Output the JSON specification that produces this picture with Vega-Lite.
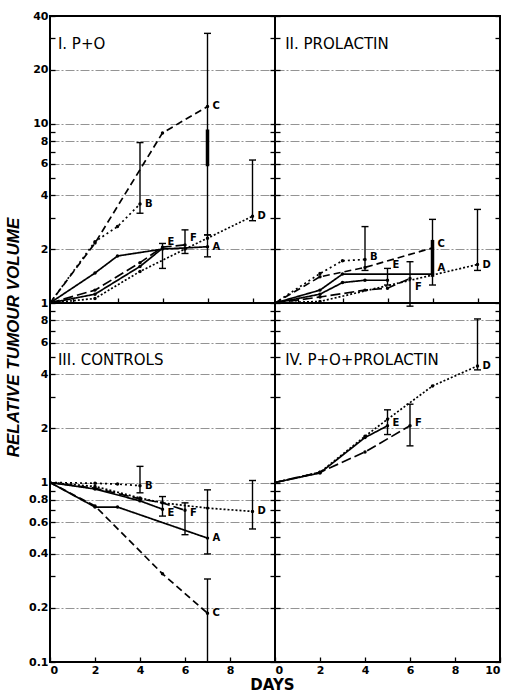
{
 "$schema": "https://vega.github.io/schema/vega-lite/v6.json",
 "background": "white",
 "padding": {"left": 3, "top": 9, "right": 2, "bottom": 2},
 "config": {
  "view": {"stroke": "black", "strokeWidth": 2},
  "axis": {"labelFont": "DejaVu Sans", "labelFontWeight": "bold", "labelFontSize": 11, "labelColor": "black", "tickColor": "black", "tickWidth": 1.3, "gridColor": "#666", "gridWidth": 0.7, "gridDash": [9, 2, 2, 2], "domain": false, "titleColor": "black"},
  "text": {"color": "black"}
 },
 "datasets": {
  "lines": [
   {"p":"I","s":"A","d":0,"v":1},{"p":"I","s":"A","d":2,"v":1.47},{"p":"I","s":"A","d":3,"v":1.83},{"p":"I","s":"A","d":5,"v":2.0},{"p":"I","s":"A","d":7,"v":2.06},
   {"p":"I","s":"B","d":0,"v":1},{"p":"I","s":"B","d":2,"v":2.2},{"p":"I","s":"B","d":3,"v":2.67},{"p":"I","s":"B","d":4,"v":3.57},
   {"p":"I","s":"C","d":0,"v":1},{"p":"I","s":"C","d":2,"v":2.16},{"p":"I","s":"C","d":5,"v":8.9},{"p":"I","s":"C","d":7,"v":12.5},
   {"p":"I","s":"D","d":0,"v":1},{"p":"I","s":"D","d":2,"v":1.06},{"p":"I","s":"D","d":4,"v":1.5},{"p":"I","s":"D","d":6,"v":2.0},{"p":"I","s":"D","d":7,"v":2.3},{"p":"I","s":"D","d":9,"v":3.05},
   {"p":"I","s":"E","d":0,"v":1},{"p":"I","s":"E","d":2,"v":1.12},{"p":"I","s":"E","d":4,"v":1.6},{"p":"I","s":"E","d":5,"v":2.02},
   {"p":"I","s":"F","d":0,"v":1},{"p":"I","s":"F","d":2,"v":1.18},{"p":"I","s":"F","d":4,"v":1.68},{"p":"I","s":"F","d":5,"v":2.05},{"p":"I","s":"F","d":6,"v":2.11},
   {"p":"II","s":"A","d":0,"v":1},{"p":"II","s":"A","d":2,"v":1.18},{"p":"II","s":"A","d":3,"v":1.45},{"p":"II","s":"A","d":7,"v":1.45},
   {"p":"II","s":"B","d":0,"v":1},{"p":"II","s":"B","d":2,"v":1.46},{"p":"II","s":"B","d":3,"v":1.72},{"p":"II","s":"B","d":4,"v":1.75},
   {"p":"II","s":"C","d":0,"v":1},{"p":"II","s":"C","d":2,"v":1.4},{"p":"II","s":"C","d":4,"v":1.58},{"p":"II","s":"C","d":7,"v":2.03},
   {"p":"II","s":"D","d":0,"v":1},{"p":"II","s":"D","d":2,"v":1.02},{"p":"II","s":"D","d":9,"v":1.64},
   {"p":"II","s":"E","d":0,"v":1},{"p":"II","s":"E","d":2,"v":1.12},{"p":"II","s":"E","d":3,"v":1.3},{"p":"II","s":"E","d":4,"v":1.34},{"p":"II","s":"E","d":5,"v":1.34},
   {"p":"II","s":"F","d":0,"v":1},{"p":"II","s":"F","d":2,"v":1.08},{"p":"II","s":"F","d":4,"v":1.18},{"p":"II","s":"F","d":5,"v":1.21},{"p":"II","s":"F","d":6,"v":1.37},
   {"p":"III","s":"A","d":0,"v":1},{"p":"III","s":"A","d":2,"v":0.73},{"p":"III","s":"A","d":3,"v":0.73},{"p":"III","s":"A","d":7,"v":0.49},
   {"p":"III","s":"B","d":0,"v":1},{"p":"III","s":"B","d":2,"v":0.99},{"p":"III","s":"B","d":3,"v":0.98},{"p":"III","s":"B","d":4,"v":0.96},
   {"p":"III","s":"C","d":0,"v":1},{"p":"III","s":"C","d":2,"v":0.74},{"p":"III","s":"C","d":5,"v":0.31},{"p":"III","s":"C","d":7,"v":0.187},
   {"p":"III","s":"D","d":0,"v":1},{"p":"III","s":"D","d":2,"v":0.95},{"p":"III","s":"D","d":4,"v":0.82},{"p":"III","s":"D","d":5,"v":0.77},{"p":"III","s":"D","d":7,"v":0.72},{"p":"III","s":"D","d":9,"v":0.69},
   {"p":"III","s":"E","d":0,"v":1},{"p":"III","s":"E","d":2,"v":0.92},{"p":"III","s":"E","d":4,"v":0.79},{"p":"III","s":"E","d":5,"v":0.71},
   {"p":"III","s":"F","d":0,"v":1},{"p":"III","s":"F","d":2,"v":0.93},{"p":"III","s":"F","d":4,"v":0.81},{"p":"III","s":"F","d":5,"v":0.77},{"p":"III","s":"F","d":6,"v":0.7},
   {"p":"IV","s":"D","d":0,"v":1},{"p":"IV","s":"D","d":2,"v":1.14},{"p":"IV","s":"D","d":4,"v":1.81},{"p":"IV","s":"D","d":5,"v":2.25},{"p":"IV","s":"D","d":7,"v":3.45},{"p":"IV","s":"D","d":9,"v":4.46},
   {"p":"IV","s":"E","d":0,"v":1},{"p":"IV","s":"E","d":2,"v":1.13},{"p":"IV","s":"E","d":4,"v":1.78},{"p":"IV","s":"E","d":5,"v":2.07},
   {"p":"IV","s":"F","d":0,"v":1},{"p":"IV","s":"F","d":2,"v":1.14},{"p":"IV","s":"F","d":4,"v":1.48},{"p":"IV","s":"F","d":6,"v":2.07}
  ],
  "bars": [
   {"p":"I","d":4,"lo":3.17,"hi":7.86},{"p":"I","d":5,"lo":1.56,"hi":2.15},{"p":"I","d":6,"lo":1.89,"hi":2.56},{"p":"I","d":7,"lo":2.4,"hi":32},{"p":"I","d":7,"lo":1.81,"hi":2.4},{"p":"I","d":9,"lo":2.88,"hi":6.28},
   {"p":"II","d":4,"lo":1.52,"hi":2.67},{"p":"II","d":5,"lo":1.26,"hi":1.56},{"p":"II","d":6,"lo":0.96,"hi":1.7},{"p":"II","d":7,"lo":1.26,"hi":2.93},{"p":"II","d":9,"lo":1.52,"hi":3.33},
   {"p":"III","d":4,"lo":0.876,"hi":1.23},{"p":"III","d":5,"lo":0.65,"hi":0.835},{"p":"III","d":6,"lo":0.512,"hi":0.77},{"p":"III","d":7,"lo":0.4,"hi":0.91},{"p":"III","d":7,"lo":0.1,"hi":0.29},{"p":"III","d":9,"lo":0.551,"hi":1.026},
   {"p":"IV","d":5,"lo":1.85,"hi":2.54},{"p":"IV","d":6,"lo":1.6,"hi":2.73},{"p":"IV","d":9,"lo":4.24,"hi":8.15}
  ],
  "thick": [
   {"p":"I","d":7,"lo":5.8,"hi":9.3},
   {"p":"II","d":7,"lo":1.4,"hi":2.25}
  ],
  "labels": [
   {"p":"I","s":"A","d":7,"v":2.06},{"p":"I","s":"B","d":4,"v":3.57},{"p":"I","s":"C","d":7,"v":12.5},{"p":"I","s":"D","d":9,"v":3.05},{"p":"I","s":"E","d":5,"v":2.2},{"p":"I","s":"F","d":6,"v":2.3},
   {"p":"II","s":"A","d":7,"v":1.56},{"p":"II","s":"B","d":4,"v":1.81},{"p":"II","s":"C","d":7,"v":2.14},{"p":"II","s":"D","d":9,"v":1.64},{"p":"II","s":"E","d":5,"v":1.63},{"p":"II","s":"F","d":6,"v":1.23},
   {"p":"III","s":"A","d":7,"v":0.49},{"p":"III","s":"B","d":4,"v":0.96},{"p":"III","s":"C","d":7,"v":0.187},{"p":"III","s":"D","d":9,"v":0.69},{"p":"III","s":"E","d":5,"v":0.68},{"p":"III","s":"F","d":6,"v":0.68},
   {"p":"IV","s":"D","d":9,"v":4.46},{"p":"IV","s":"E","d":5,"v":2.14},{"p":"IV","s":"F","d":6,"v":2.14}
  ],
  "titles": [
   {"p":"I","t":"I. P+O"},{"p":"II","t":"II. PROLACTIN"},{"p":"III","t":"III. CONTROLS"},{"p":"IV","t":"IV. P+O+PROLACTIN"}
  ]
 },
 "columns": 2,
 "spacing": 0,
 "bounds": "flush",
 "align": "each",
 "concat": [
  {
   "width": 225, "height": 287,
   "resolve": {"axis": {"y": "independent"}},
   "layer": [
    {"data": {"name": "lines"}, "transform": [{"filter": "datum.p == 'I'"}],
     "mark": {"type": "line", "color": "black", "strokeWidth": 1.7},
     "encoding": {
      "x": {"field": "d", "type": "quantitative", "scale": {"domain": [0, 10], "nice": false}, "axis": {"values": [1,2,3,4,5,6,7,8,9], "labels": false, "tickSize": -5, "grid": false, "title": null}},
      "y": {"field": "v", "type": "quantitative", "scale": {"type": "log", "domain": [1, 40], "nice": false}, "axis": {"values": [1,2,3,4,5,6,7,8,9,10,20,30,40], "labelExpr": "indexof([1,2,4,6,8,10,20,40], datum.value) >= 0 ? '' + datum.value : ''", "tickSize": -5, "labelPadding": 7, "grid": true, "gridOpacity": {"condition": {"test": "indexof([2,4,6,8,10,20], datum.value) >= 0", "value": 1}, "value": 0}, "title": null}},
      "strokeDash": {"field": "s", "type": "nominal", "scale": {"domain": ["A","B","C","D","E","F"], "range": [[1,0],[2,3],[7,4],[2,2],[1,0],[10,4]]}, "legend": null}
     }},
    {"data": {"name": "lines"}, "transform": [{"filter": "datum.p == 'I' && datum.d > 0"}],
     "mark": {"type": "point", "filled": true, "color": "black", "size": 12, "opacity": 1},
     "encoding": {
      "x": {"field": "d", "type": "quantitative"},
      "y": {"field": "v", "type": "quantitative", "axis": {"orient": "right", "values": [1,2,3,4,5,6,7,8,9,10,20,30,40], "labels": false, "tickSize": -5, "grid": false, "title": null}}
     }},
    {"data": {"name": "bars"}, "transform": [{"filter": "datum.p == 'I'"}],
     "mark": {"type": "rule", "color": "black", "strokeWidth": 1.4},
     "encoding": {"x": {"field": "d", "type": "quantitative"}, "y": {"field": "lo", "type": "quantitative", "axis": null}, "y2": {"field": "hi"}}},
    {"data": {"name": "bars"}, "transform": [{"filter": "datum.p == 'I'"}],
     "mark": {"type": "tick", "orient": "horizontal", "color": "black", "size": 7, "thickness": 1.4, "opacity": 1},
     "encoding": {"x": {"field": "d", "type": "quantitative"}, "y": {"field": "lo", "type": "quantitative", "axis": null}}},
    {"data": {"name": "bars"}, "transform": [{"filter": "datum.p == 'I'"}],
     "mark": {"type": "tick", "orient": "horizontal", "color": "black", "size": 7, "thickness": 1.4, "opacity": 1},
     "encoding": {"x": {"field": "d", "type": "quantitative"}, "y": {"field": "hi", "type": "quantitative", "axis": null}}},
    {"data": {"name": "thick"}, "transform": [{"filter": "datum.p == 'I'"}],
     "mark": {"type": "rule", "color": "black", "strokeWidth": 3.5},
     "encoding": {"x": {"field": "d", "type": "quantitative"}, "y": {"field": "lo", "type": "quantitative", "axis": null}, "y2": {"field": "hi"}}},
    {"data": {"name": "labels"}, "transform": [{"filter": "datum.p == 'I'"}],
     "mark": {"type": "text", "align": "left", "baseline": "middle", "dx": 5, "font": "DejaVu Sans", "fontWeight": "bold", "fontSize": 10},
     "encoding": {"x": {"field": "d", "type": "quantitative"}, "y": {"field": "v", "type": "quantitative", "axis": null}, "text": {"field": "s"}}},
    {"data": {"name": "titles"}, "transform": [{"filter": "datum.p == 'I'"}],
     "mark": {"type": "text", "align": "left", "baseline": "middle", "font": "DejaVu Sans", "fontSize": 15},
     "encoding": {"x": {"datum": 0.35, "type": "quantitative"}, "y": {"datum": 28, "type": "quantitative", "axis": null}, "text": {"field": "t"}}}
   ]
  },
  {
   "width": 225, "height": 287,
   "resolve": {"axis": {"y": "independent"}},
   "layer": [
    {"data": {"name": "lines"}, "transform": [{"filter": "datum.p == 'II'"}],
     "mark": {"type": "line", "color": "black", "strokeWidth": 1.7},
     "encoding": {
      "x": {"field": "d", "type": "quantitative", "scale": {"domain": [0, 10], "nice": false}, "axis": {"values": [1,2,3,4,5,6,7,8,9], "labels": false, "tickSize": -5, "grid": false, "title": null}},
      "y": {"field": "v", "type": "quantitative", "scale": {"type": "log", "domain": [1, 40], "nice": false}, "axis": {"values": [1,2,3,4,5,6,7,8,9,10,20,30,40], "labels": false, "tickSize": -5, "grid": true, "gridOpacity": {"condition": {"test": "indexof([2,4,6,8,10,20], datum.value) >= 0", "value": 1}, "value": 0}, "title": null}},
      "strokeDash": {"field": "s", "type": "nominal", "scale": {"domain": ["A","B","C","D","E","F"], "range": [[1,0],[2,3],[7,4],[2,2],[1,0],[10,4]]}, "legend": null}
     }},
    {"data": {"name": "lines"}, "transform": [{"filter": "datum.p == 'II' && datum.d > 0"}],
     "mark": {"type": "point", "filled": true, "color": "black", "size": 12, "opacity": 1},
     "encoding": {
      "x": {"field": "d", "type": "quantitative"},
      "y": {"field": "v", "type": "quantitative", "axis": {"orient": "right", "values": [1,2,3,4,5,6,7,8,9,10,20,30,40], "labels": false, "tickSize": -5, "grid": false, "title": null}}
     }},
    {"data": {"name": "bars"}, "transform": [{"filter": "datum.p == 'II'"}],
     "mark": {"type": "rule", "color": "black", "strokeWidth": 1.4},
     "encoding": {"x": {"field": "d", "type": "quantitative"}, "y": {"field": "lo", "type": "quantitative", "axis": null}, "y2": {"field": "hi"}}},
    {"data": {"name": "bars"}, "transform": [{"filter": "datum.p == 'II'"}],
     "mark": {"type": "tick", "orient": "horizontal", "color": "black", "size": 7, "thickness": 1.4, "opacity": 1},
     "encoding": {"x": {"field": "d", "type": "quantitative"}, "y": {"field": "lo", "type": "quantitative", "axis": null}}},
    {"data": {"name": "bars"}, "transform": [{"filter": "datum.p == 'II'"}],
     "mark": {"type": "tick", "orient": "horizontal", "color": "black", "size": 7, "thickness": 1.4, "opacity": 1},
     "encoding": {"x": {"field": "d", "type": "quantitative"}, "y": {"field": "hi", "type": "quantitative", "axis": null}}},
    {"data": {"name": "thick"}, "transform": [{"filter": "datum.p == 'II'"}],
     "mark": {"type": "rule", "color": "black", "strokeWidth": 3.5},
     "encoding": {"x": {"field": "d", "type": "quantitative"}, "y": {"field": "lo", "type": "quantitative", "axis": null}, "y2": {"field": "hi"}}},
    {"data": {"name": "labels"}, "transform": [{"filter": "datum.p == 'II'"}],
     "mark": {"type": "text", "align": "left", "baseline": "middle", "dx": 5, "font": "DejaVu Sans", "fontWeight": "bold", "fontSize": 10},
     "encoding": {"x": {"field": "d", "type": "quantitative"}, "y": {"field": "v", "type": "quantitative", "axis": null}, "text": {"field": "s"}}},
    {"data": {"name": "titles"}, "transform": [{"filter": "datum.p == 'II'"}],
     "mark": {"type": "text", "align": "left", "baseline": "middle", "font": "DejaVu Sans", "fontSize": 15},
     "encoding": {"x": {"datum": 0.45, "type": "quantitative"}, "y": {"datum": 28, "type": "quantitative", "axis": null}, "text": {"field": "t"}}}
   ]
  },
  {
   "width": 225, "height": 359,
   "resolve": {"axis": {"y": "independent"}},
   "layer": [
    {"data": {"name": "lines"}, "transform": [{"filter": "datum.p == 'III'"}],
     "mark": {"type": "line", "color": "black", "strokeWidth": 1.7},
     "encoding": {
      "x": {"field": "d", "type": "quantitative", "scale": {"domain": [0, 10], "nice": false}, "axis": {"values": [0,1,2,3,4,5,6,7,8,9], "labelExpr": "datum.value % 2 == 0 ? '' + datum.value : ''", "tickSize": -5, "labelPadding": 7, "grid": false, "title": "DAYS", "titleX": 222, "titleAlign": "center", "titleFont": "DejaVu Sans", "titleFontWeight": "bold", "titleFontSize": 15, "titlePadding": 2}},
      "y": {"field": "v", "type": "quantitative", "scale": {"type": "log", "domain": [0.1, 10], "nice": false}, "axis": {"values": [0.1,0.2,0.3,0.4,0.5,0.6,0.7,0.8,0.9,1,2,3,4,5,6,7,8,9], "labelExpr": "indexof([0.1,0.2,0.4,0.6,0.8,1,2,4,6,8], datum.value) >= 0 ? '' + datum.value : ''", "tickSize": -5, "labelPadding": 7, "grid": true, "gridOpacity": {"condition": {"test": "indexof([0.2,0.4,0.6,0.8,1,2,4,6,8], datum.value) >= 0", "value": 1}, "value": 0}, "title": "RELATIVE TUMOUR VOLUME", "titleY": 34, "titleFont": "Liberation Sans", "titleFontStyle": "italic", "titleFontWeight": "bold", "titleFontSize": 17, "titlePadding": 6}},
      "strokeDash": {"field": "s", "type": "nominal", "scale": {"domain": ["A","B","C","D","E","F"], "range": [[1,0],[2,3],[7,4],[2,2],[1,0],[10,4]]}, "legend": null}
     }},
    {"data": {"name": "lines"}, "transform": [{"filter": "datum.p == 'III' && datum.d > 0"}],
     "mark": {"type": "point", "filled": true, "color": "black", "size": 12, "opacity": 1},
     "encoding": {
      "x": {"field": "d", "type": "quantitative"},
      "y": {"field": "v", "type": "quantitative", "axis": {"orient": "right", "values": [0.1,0.2,0.3,0.4,0.5,0.6,0.7,0.8,0.9,1,2,3,4,5,6,7,8,9], "labels": false, "tickSize": -5, "grid": false, "title": null}}
     }},
    {"data": {"name": "bars"}, "transform": [{"filter": "datum.p == 'III'"}],
     "mark": {"type": "rule", "color": "black", "strokeWidth": 1.4},
     "encoding": {"x": {"field": "d", "type": "quantitative"}, "y": {"field": "lo", "type": "quantitative", "axis": null}, "y2": {"field": "hi"}}},
    {"data": {"name": "bars"}, "transform": [{"filter": "datum.p == 'III'"}],
     "mark": {"type": "tick", "orient": "horizontal", "color": "black", "size": 7, "thickness": 1.4, "opacity": 1},
     "encoding": {"x": {"field": "d", "type": "quantitative"}, "y": {"field": "lo", "type": "quantitative", "axis": null}}},
    {"data": {"name": "bars"}, "transform": [{"filter": "datum.p == 'III'"}],
     "mark": {"type": "tick", "orient": "horizontal", "color": "black", "size": 7, "thickness": 1.4, "opacity": 1},
     "encoding": {"x": {"field": "d", "type": "quantitative"}, "y": {"field": "hi", "type": "quantitative", "axis": null}}},
    {"data": {"name": "labels"}, "transform": [{"filter": "datum.p == 'III'"}],
     "mark": {"type": "text", "align": "left", "baseline": "middle", "dx": 5, "font": "DejaVu Sans", "fontWeight": "bold", "fontSize": 10},
     "encoding": {"x": {"field": "d", "type": "quantitative"}, "y": {"field": "v", "type": "quantitative", "axis": null}, "text": {"field": "s"}}},
    {"data": {"name": "titles"}, "transform": [{"filter": "datum.p == 'III'"}],
     "mark": {"type": "text", "align": "left", "baseline": "middle", "font": "DejaVu Sans", "fontSize": 15},
     "encoding": {"x": {"datum": 0.35, "type": "quantitative"}, "y": {"datum": 4.8, "type": "quantitative", "axis": null}, "text": {"field": "t"}}}
   ]
  },
  {
   "width": 225, "height": 359,
   "resolve": {"axis": {"y": "independent"}},
   "layer": [
    {"data": {"name": "lines"}, "transform": [{"filter": "datum.p == 'IV'"}],
     "mark": {"type": "line", "color": "black", "strokeWidth": 1.7},
     "encoding": {
      "x": {"field": "d", "type": "quantitative", "scale": {"domain": [0, 10], "nice": false}, "axis": {"values": [0,1,2,3,4,5,6,7,8,9,10], "labelExpr": "datum.value % 2 == 0 ? '' + datum.value : ''", "tickSize": -5, "labelPadding": 7, "grid": false, "title": null}},
      "y": {"field": "v", "type": "quantitative", "scale": {"type": "log", "domain": [0.1, 10], "nice": false}, "axis": {"values": [0.1,0.2,0.3,0.4,0.5,0.6,0.7,0.8,0.9,1,2,3,4,5,6,7,8,9], "labels": false, "tickSize": -5, "grid": true, "gridOpacity": {"condition": {"test": "indexof([0.2,0.4,0.6,0.8,1,2,4,6,8], datum.value) >= 0", "value": 1}, "value": 0}, "title": null}},
      "strokeDash": {"field": "s", "type": "nominal", "scale": {"domain": ["A","B","C","D","E","F"], "range": [[1,0],[2,3],[7,4],[2,2],[1,0],[10,4]]}, "legend": null}
     }},
    {"data": {"name": "lines"}, "transform": [{"filter": "datum.p == 'IV' && datum.d > 0"}],
     "mark": {"type": "point", "filled": true, "color": "black", "size": 12, "opacity": 1},
     "encoding": {
      "x": {"field": "d", "type": "quantitative"},
      "y": {"field": "v", "type": "quantitative", "axis": {"orient": "right", "values": [0.1,0.2,0.3,0.4,0.5,0.6,0.7,0.8,0.9,1,2,3,4,5,6,7,8,9], "labels": false, "tickSize": -5, "grid": false, "title": null}}
     }},
    {"data": {"name": "bars"}, "transform": [{"filter": "datum.p == 'IV'"}],
     "mark": {"type": "rule", "color": "black", "strokeWidth": 1.4},
     "encoding": {"x": {"field": "d", "type": "quantitative"}, "y": {"field": "lo", "type": "quantitative", "axis": null}, "y2": {"field": "hi"}}},
    {"data": {"name": "bars"}, "transform": [{"filter": "datum.p == 'IV'"}],
     "mark": {"type": "tick", "orient": "horizontal", "color": "black", "size": 7, "thickness": 1.4, "opacity": 1},
     "encoding": {"x": {"field": "d", "type": "quantitative"}, "y": {"field": "lo", "type": "quantitative", "axis": null}}},
    {"data": {"name": "bars"}, "transform": [{"filter": "datum.p == 'IV'"}],
     "mark": {"type": "tick", "orient": "horizontal", "color": "black", "size": 7, "thickness": 1.4, "opacity": 1},
     "encoding": {"x": {"field": "d", "type": "quantitative"}, "y": {"field": "hi", "type": "quantitative", "axis": null}}},
    {"data": {"name": "labels"}, "transform": [{"filter": "datum.p == 'IV'"}],
     "mark": {"type": "text", "align": "left", "baseline": "middle", "dx": 5, "font": "DejaVu Sans", "fontWeight": "bold", "fontSize": 10},
     "encoding": {"x": {"field": "d", "type": "quantitative"}, "y": {"field": "v", "type": "quantitative", "axis": null}, "text": {"field": "s"}}},
    {"data": {"name": "titles"}, "transform": [{"filter": "datum.p == 'IV'"}],
     "mark": {"type": "text", "align": "left", "baseline": "middle", "font": "DejaVu Sans", "fontSize": 15},
     "encoding": {"x": {"datum": 0.45, "type": "quantitative"}, "y": {"datum": 4.8, "type": "quantitative", "axis": null}, "text": {"field": "t"}}}
   ]
  }
 ]
}
